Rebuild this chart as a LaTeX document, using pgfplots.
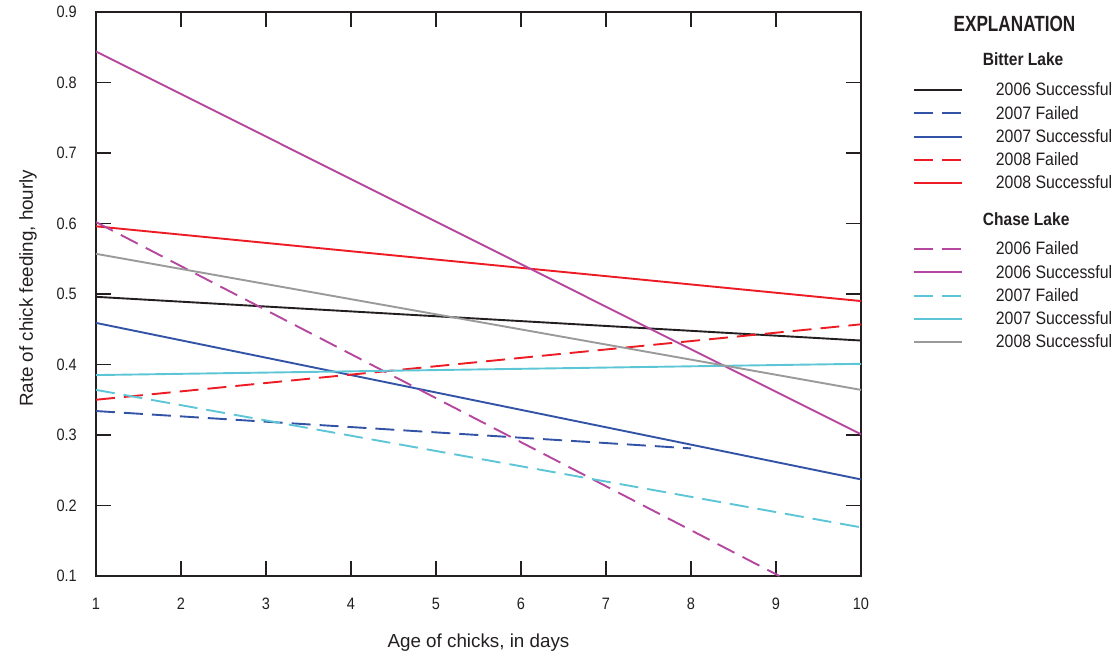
\documentclass[border=0pt]{standalone}
\usepackage{fontspec}
\setmainfont[FakeStretch=0.88]{Liberation Sans}
\newfontfamily\labelfont{Liberation Sans}
\newfontfamily\headfont[FakeStretch=0.78]{Liberation Sans}
\usepackage{pgfplots}
\pgfplotsset{compat=1.18}
\definecolor{textc}{HTML}{231F20}
\definecolor{cblack}{HTML}{231F20}
\definecolor{cblue}{HTML}{3353A6}
\definecolor{cred}{HTML}{ED1C24}
\definecolor{cmag}{HTML}{B5479F}
\definecolor{ccyan}{HTML}{5CC6D6}
\definecolor{cgray}{HTML}{9A9A9A}
\pgfplotsset{
  sl/.style={line width=1.9pt},
  dl/.style={line width=1.9pt, dash pattern=on 19pt off 9pt},
}
\newcommand{\es}{\rule[-6pt]{0pt}{23.2pt}}
\begin{document}
\begin{tikzpicture}
\useasboundingbox (-96pt,-78pt) rectangle (1023pt,576pt);
\begin{axis}[
  at={(0,0)}, anchor=south west,
  width=765pt, height=564pt, scale only axis,
  xmin=1, xmax=10, ymin=0.1, ymax=0.9,
  xtick={1,2,3,4,5,6,7,8,9,10},
  ytick={0.1,0.2,0.3,0.4,0.5,0.6,0.7,0.8,0.9},
  /pgf/number format/assume math mode=true,
  y tick label style={/pgf/number format/fixed, /pgf/number format/fixed zerofill, /pgf/number format/precision=1},
  tick label style={font=\fontsize{16.5}{19}\selectfont, text=textc},
  xticklabel style={anchor=north, inner sep=0pt},
  xticklabel shift=22pt,
  yticklabel style={anchor=east, inner sep=0pt},
  yticklabel shift=19pt,
  tick align=inside,
  major tick length=15pt,
  tick style={line width=1.3pt, color=cblack},
  axis line style={line width=1.3pt, color=cblack},
  xlabel={Age of chicks, in days},
  ylabel={Rate of chick feeding, hourly},
  label style={font=\labelfont\fontsize{18.8}{22}\selectfont, text=textc},
  xlabel style={at={(axis description cs:0.5,0)}, anchor=base, yshift=-71pt},
  ylabel style={at={(axis description cs:-0.0824,0.51)}, anchor=base, rotate=0},
  legend style={at={(axis description cs:1.068,0.9335)}, anchor=north west,
    draw=none, fill=none, inner sep=0pt, outer sep=0pt, row sep=0pt, column sep=33pt,
    nodes={inner sep=0pt, text depth=, font=\fontsize{18}{20}\selectfont, text=textc}},
  legend cell align=left,
  legend image code/.code={\draw[#1] (0pt,0pt) -- (48pt,0pt);},
]
% Bitter Lake
\addplot[sl, color=cblack, forget plot] coordinates {(1,0.496) (10,0.434)};
\addplot[dl, color=cblue, forget plot] coordinates {(1,0.334) (8,0.281)};
\addplot[sl, color=cblue, forget plot] coordinates {(1,0.459) (10,0.237)};
\addplot[dl, color=cred, forget plot] coordinates {(1,0.350) (10,0.457)};
\addplot[sl, color=cred, forget plot] coordinates {(1,0.596) (10,0.490)};
% Chase Lake
\addplot[dl, color=cmag, forget plot] coordinates {(1,0.602) (9.04,0.1)};
\addplot[sl, color=cmag, forget plot] coordinates {(1,0.844) (10,0.301)};
\addplot[dl, color=ccyan, forget plot] coordinates {(1,0.364) (10,0.169)};
\addplot[sl, color=ccyan, forget plot] coordinates {(1,0.385) (10,0.401)};
\addplot[sl, color=cgray, forget plot] coordinates {(1,0.557) (10,0.364)};
% legend
\addlegendimage{legend image code/.code={}}
\addlegendentry{\rule[-13.1pt]{0pt}{29.1pt}\hspace*{-13pt}\bfseries\fontsize{17.7}{20}\selectfont Bitter Lake}
\addlegendimage{sl, draw=cblack}\addlegendentry{\es 2006 Successful}
\addlegendimage{dl, draw=cblue}\addlegendentry{\es 2007 Failed}
\addlegendimage{sl, draw=cblue}\addlegendentry{\es 2007 Successful}
\addlegendimage{dl, draw=cred}\addlegendentry{\es 2008 Failed}
\addlegendimage{sl, draw=cred}\addlegendentry{\es 2008 Successful}
\addlegendimage{legend image code/.code={}}
\addlegendentry{\rule[-12.3pt]{0pt}{43pt}\hspace*{-13pt}\bfseries\fontsize{17.7}{20}\selectfont Chase Lake}
\addlegendimage{dl, draw=cmag}\addlegendentry{\es 2006 Failed}
\addlegendimage{sl, draw=cmag}\addlegendentry{\es 2006 Successful}
\addlegendimage{dl, draw=ccyan}\addlegendentry{\es 2007 Failed}
\addlegendimage{sl, draw=ccyan}\addlegendentry{\es 2007 Successful}
\addlegendimage{sl, draw=cgray}\addlegendentry{\es 2008 Successful}
\end{axis}
\node[anchor=base, font=\headfont\bfseries\fontsize{22}{24}\selectfont, text=textc] at (918.5pt,544.3pt) {EXPLANATION};
\end{tikzpicture}
\end{document}
